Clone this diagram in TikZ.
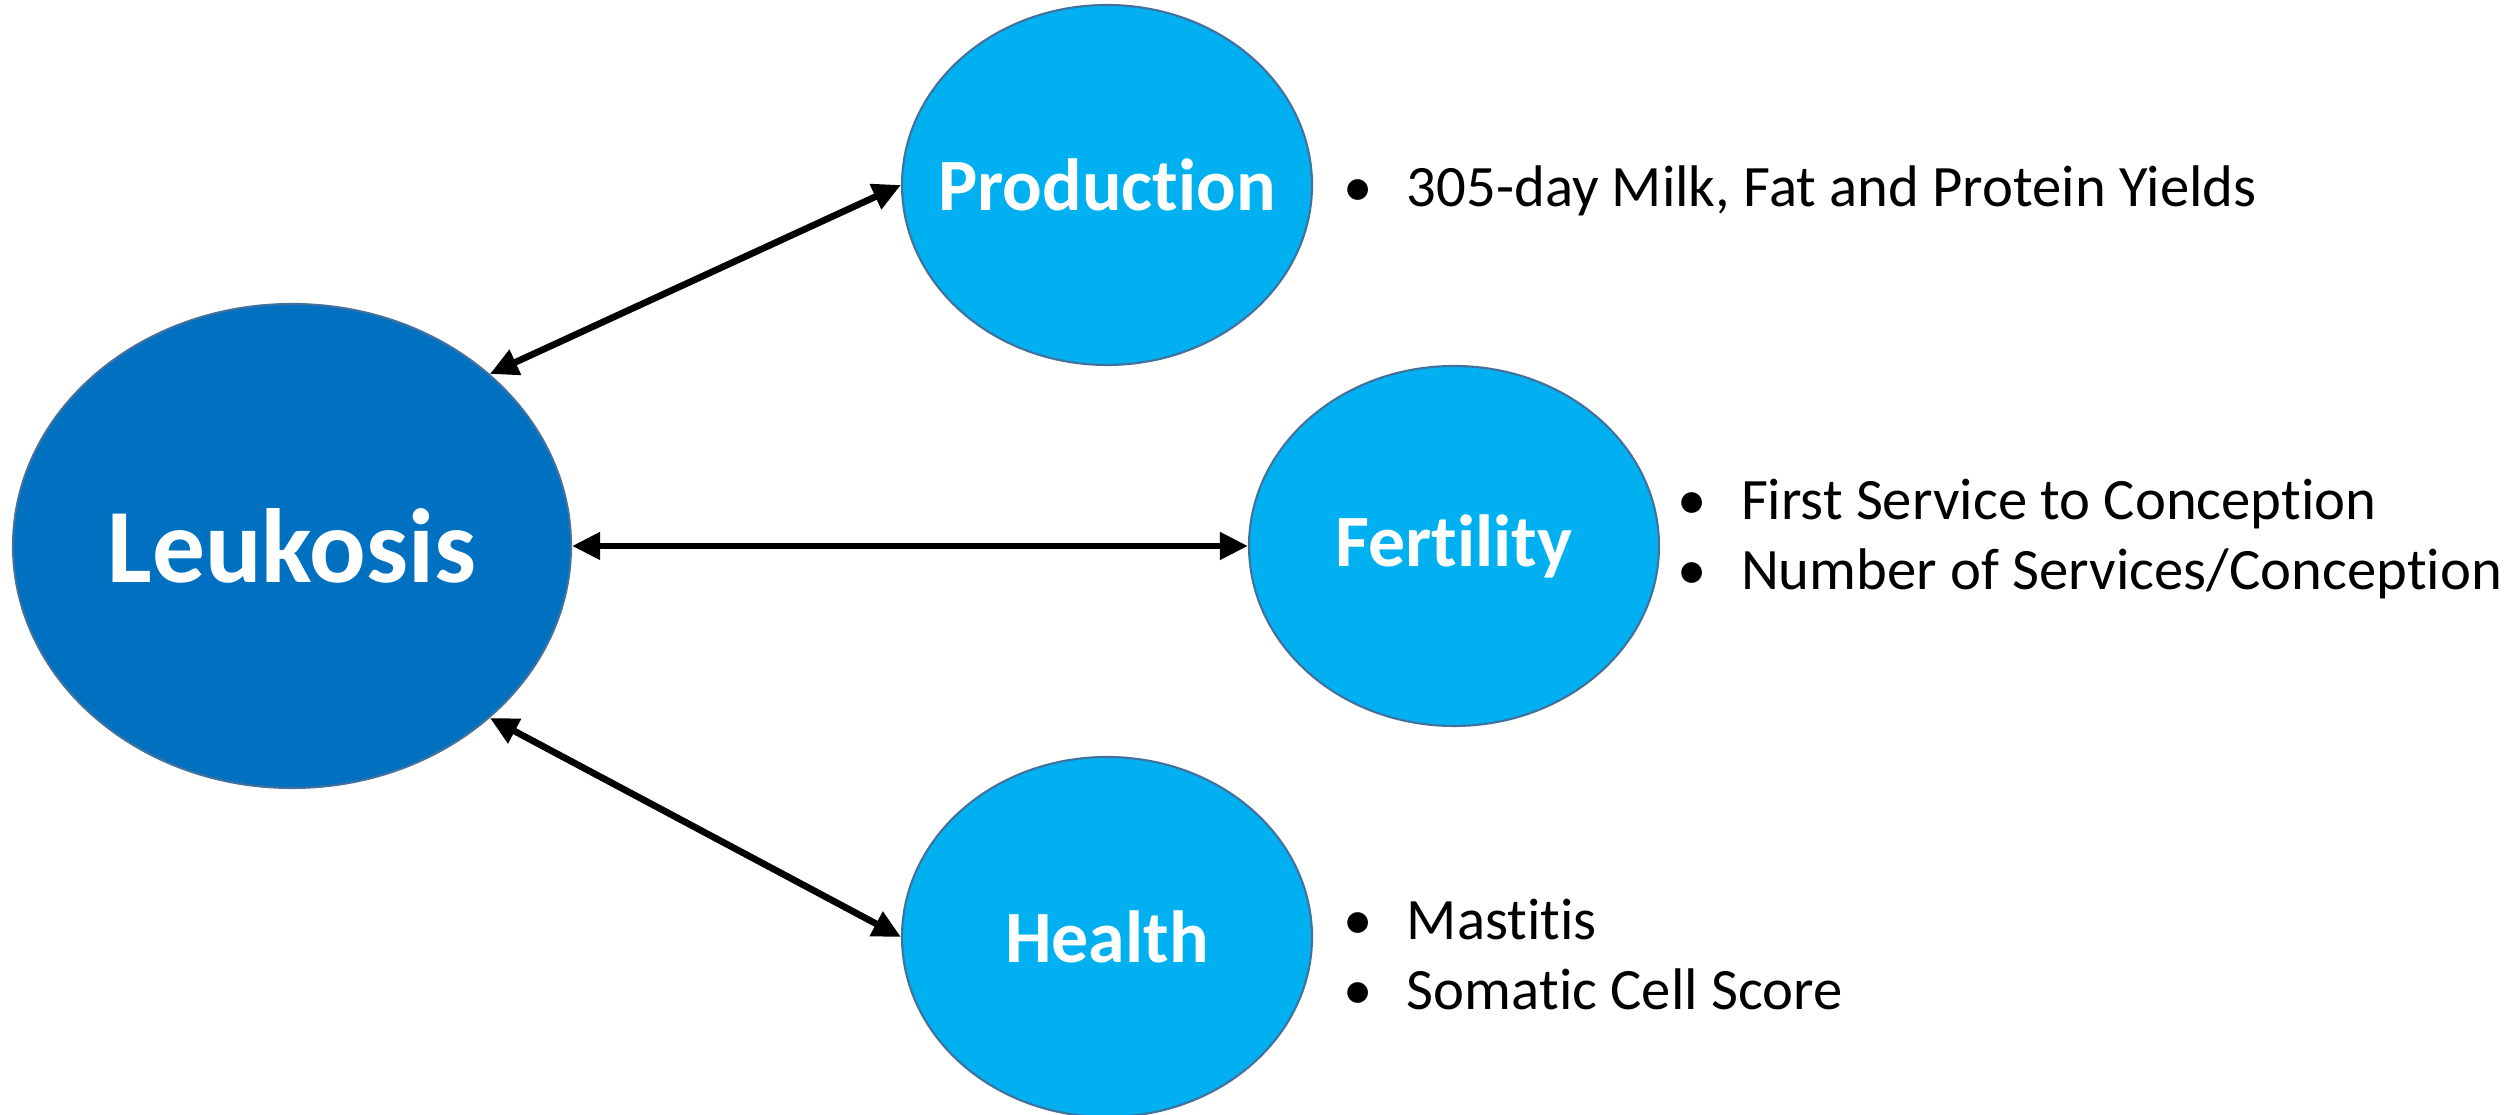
\documentclass[tikz,border=0pt]{standalone}
\usepackage{fontspec}
\setmainfont[Ligatures=NoCommon]{Carlito}
\usetikzlibrary{arrows.meta,shapes.geometric}
\definecolor{leukBlue}{HTML}{0070C0}
\definecolor{traitBlue}{HTML}{00B0F0}
\definecolor{rimBlue}{HTML}{41719C}
\newcommand{\blobtext}[1]{\makebox[0pt]{#1}}
\begin{document}
\begin{tikzpicture}
% trait diagram, 1 unit = 100 px of the slide
\tikzset{
  blob/.style={ellipse, draw=rimBlue, line width=0.6pt, text=white, font=\bfseries, inner sep=0pt},
  hub/.style={blob, fill=leukBlue, minimum width=5.58cm, minimum height=4.84cm, font=\fontsize{30}{36}\selectfont\bfseries},
  trait/.style={blob, fill=traitBlue, minimum width=4.10cm, minimum height=3.60cm, font=\fontsize{21}{25}\selectfont\bfseries},
  facts/.style={anchor=west, inner sep=0pt, font=\fontsize{16.7}{19.9}\selectfont, align=left},
  link/.style={{Triangle[length=8pt,width=7.5pt]}-{Triangle[length=8pt,width=7.5pt]}, line width=1.9pt, black}
}
\useasboundingbox (0,0) rectangle (25.09,11.15);
% Ellipses
\node[hub]   (leukosis)   at (2.92,5.69)  {\blobtext{Leukosis}};
\node[trait] (production) at (11.07,9.30) {\blobtext{Production}};
\node[trait] (fertility)  at (14.54,5.69) {\blobtext{Fertility}};
\node[trait] (health)     at (11.07,1.78) {\blobtext{Health}};
% Trait lists
\node[facts] (prodlist) at (13.43,9.24) {\textbullet\hspace{0.58em}305-day Milk, Fat and Protein Yields};
\node[facts] (fertlist) at (16.77,5.76) {\textbullet\hspace{0.58em}First Service to Conception\\\textbullet\hspace{0.58em}Number of Services/Conception};
\node[facts] (healthlist) at (13.43,1.60) {\textbullet\hspace{0.58em}Mastitis\\\textbullet\hspace{0.58em}Somatic Cell Score};
% Links
\draw[link] (leukosis.41) -- (production.west);
\draw[link] (leukosis.east) -- (fertility.west);
\draw[link] (leukosis.-41) -- (health.west);
\end{tikzpicture}
\end{document}
